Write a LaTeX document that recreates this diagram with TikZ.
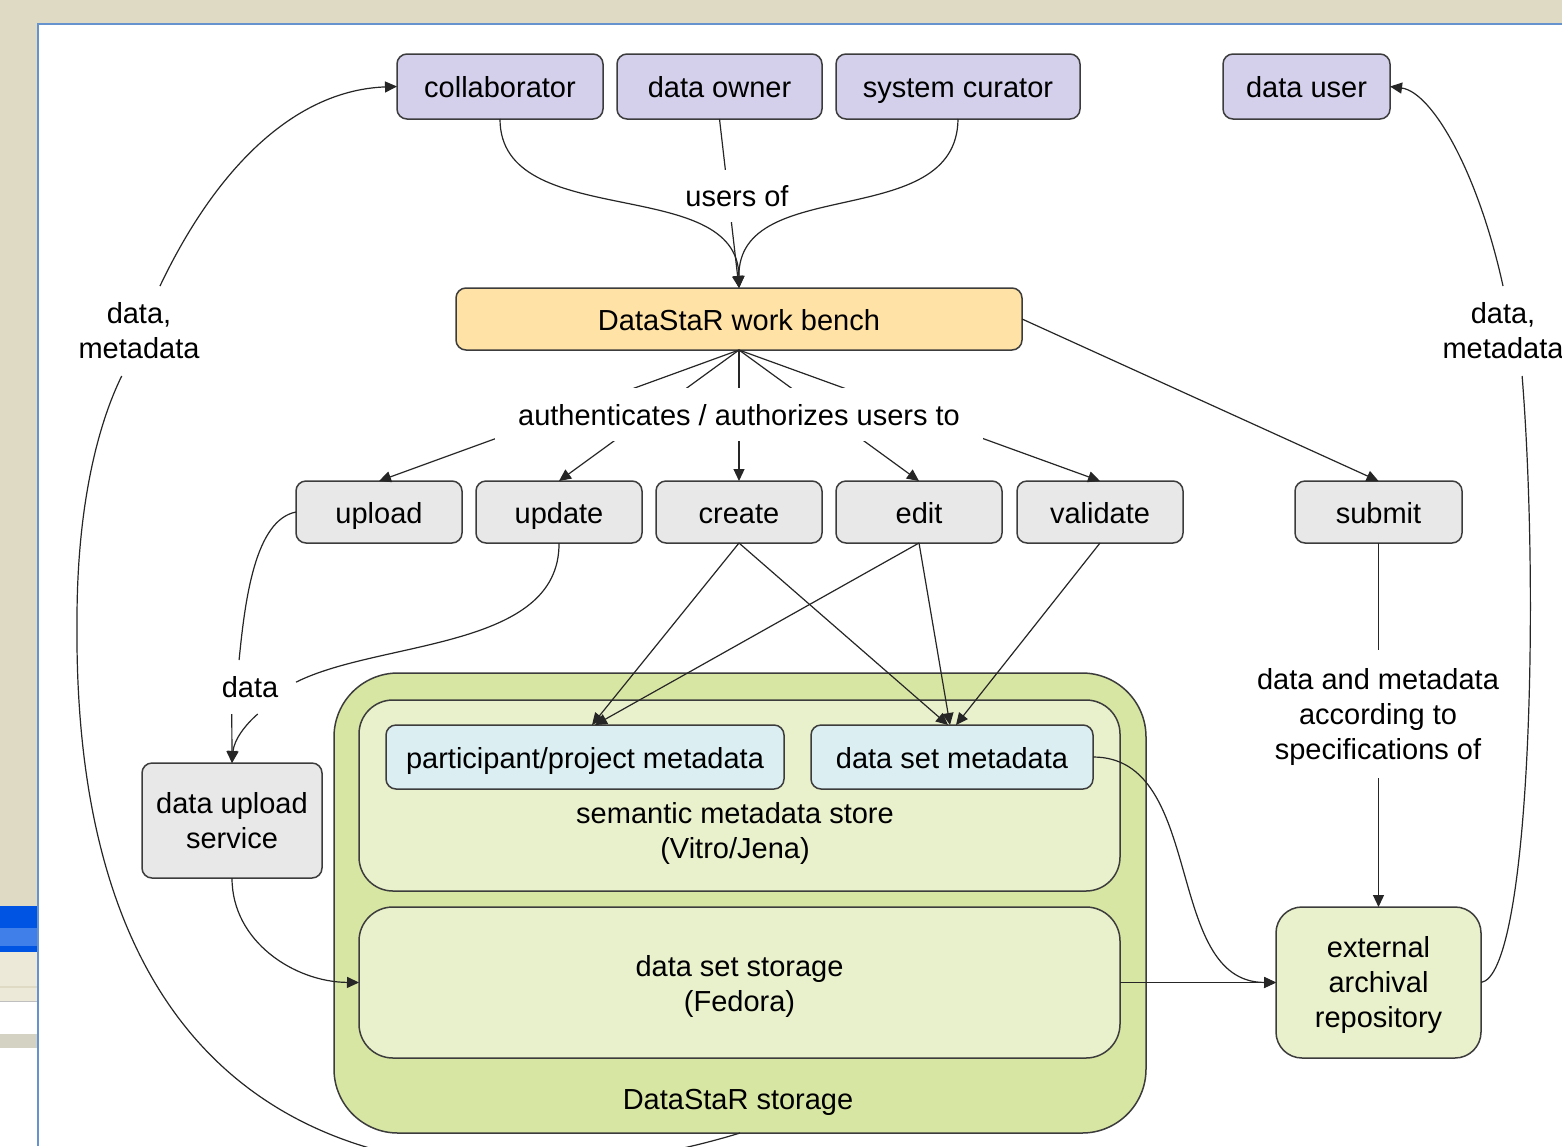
\documentclass[tikz,border=0pt]{standalone}
\usepackage{fontspec}
\setmainfont{Liberation Sans}
\usetikzlibrary{arrows.meta}
\definecolor{winbeige}{RGB}{223,218,196}
\definecolor{winlight}{RGB}{236,233,216}
\definecolor{winblue}{RGB}{0,84,227}
\definecolor{winline}{RGB}{102,146,206}
\definecolor{bord}{RGB}{60,60,60}
\definecolor{lav}{RGB}{212,208,236}
\definecolor{wbcol}{RGB}{254,226,166}
\definecolor{graybox}{RGB}{232,232,232}
\definecolor{outgreen}{RGB}{216,230,164}
\definecolor{ingreen}{RGB}{233,240,204}
\definecolor{cyanbox}{RGB}{219,238,242}
\newcommand\dfs{\fontsize{14.5}{17.5}\selectfont}
\begin{document}
\begin{tikzpicture}[x=0.5pt,y=-0.5pt,
  box/.style={draw=bord,line width=0.75pt,rounded corners=5pt,inner sep=0pt,outer sep=0pt,font=\dfs,align=center},
  one/.style={text height=14pt,text depth=3pt},
  lbl/.style={inner sep=0pt,outer sep=0pt,font=\dfs,align=center},
  conn/.style={draw=black!85,line width=0.6pt},
  arr/.style={conn,-{Triangle[length=6pt,width=5.5pt]}}]
\useasboundingbox (0,0) rectangle (1562,1146);
\clip (0,0) rectangle (1562,1146);
% window background
\fill[winbeige] (0,0) rectangle (1562,1146);
\fill[white] (38,24) rectangle (1562,1146);
\fill[winblue] (0,906) rectangle (37,952);
\fill[winblue!75!white] (0,928) rectangle (37,946);
\fill[winlight] (0,952) rectangle (37,986);
\fill[winlight] (0,988) rectangle (37,1001);
\draw[black!25,line width=0.5pt] (0,1001.5) -- (37,1001.5);
\fill[white] (0,1002) rectangle (37,1034);
\fill[winlight!90!black] (0,1034) rectangle (37,1048);
\fill[white] (0,1048) rectangle (37,1146);
\draw[winline,line width=1.2pt] (38,1146) -- (38,24) -- (1562,24);

% top users
\node[box,one,fill=lav,minimum width=103pt,minimum height=32.5pt] (collab) at (500,86.5) {collaborator};
\node[box,one,fill=lav,minimum width=102.5pt,minimum height=32.5pt] (owner) at (719.5,86.5) {data owner};
\node[box,one,fill=lav,minimum width=122pt,minimum height=32.5pt] (curator) at (958,86.5) {system curator};
\node[box,one,fill=lav,minimum width=83.5pt,minimum height=32.5pt] (duser) at (1306.5,86.5) {data user};
% workbench
\node[box,one,fill=wbcol,minimum width=283pt,minimum height=31pt] (wb) at (739,319) {DataStaR work bench};
% action boxes
\node[box,one,fill=graybox,minimum width=83pt,minimum height=31pt] (upload) at (379,512) {upload};
\node[box,one,fill=graybox,minimum width=83pt,minimum height=31pt] (update) at (559,512) {update};
\node[box,one,fill=graybox,minimum width=83pt,minimum height=31pt] (create) at (739,512) {create};
\node[box,one,fill=graybox,minimum width=83pt,minimum height=31pt] (edit) at (919,512) {edit};
\node[box,one,fill=graybox,minimum width=83pt,minimum height=31pt] (validate) at (1100,512) {validate};
\node[box,one,fill=graybox,minimum width=83.5pt,minimum height=31pt] (submit) at (1378.5,512) {submit};
% data upload service
\node[box,fill=graybox,minimum width=90pt,minimum height=57.5pt] (dus) at (232,820.5) {data upload\\service};
% storage
\node[box,fill=outgreen,rounded corners=32pt,minimum width=406pt,minimum height=230pt] (storage) at (740,903) {};
\node[box,fill=ingreen,rounded corners=17pt,minimum width=380.5pt,minimum height=95.5pt] (smd) at (739.5,795.5) {};
\node[box,one,fill=cyanbox,minimum width=199pt,minimum height=32pt] (pm) at (585,757) {participant/project metadata};
\node[box,one,fill=cyanbox,minimum width=141pt,minimum height=32pt] (dsm) at (952,757) {data set metadata};
\node[lbl] (smdl) at (735,833) {semantic metadata store\\(Vitro/Jena)};
\node[box,fill=ingreen,rounded corners=17pt,minimum width=380.5pt,minimum height=75.5pt] (dss) at (739.5,982.5) {\rule{0pt}{14pt}data set storage\\(Fedora)};
\node[lbl,one] (stl) at (738,1098) {DataStaR storage};
\node[box,fill=ingreen,rounded corners=13pt,minimum width=102.5pt,minimum height=75.5pt] (ear) at (1378.5,982.5) {\rule{0pt}{12.8pt}external\\archival\\repository};

% lines broken by labels (labels drawn on top in white)
\draw[arr] (owner.south) -- (wb.north);
\foreach \t in {upload,update,create,edit,validate}{\draw[arr] (wb.south) -- (\t.north);}
\draw[arr] (submit.south) -- (ear.north);
\node[lbl,fill=white,minimum width=55pt,minimum height=26pt] (usersof) at (737,196) {users of};
\node[lbl,one,fill=white,minimum width=244pt,minimum height=26.5pt] (auth) at (739,414.5) {authenticates / authorizes users to};
\node[lbl,fill=white,minimum width=130pt,minimum height=64pt] (spec) at (1378,714) {\rule{0pt}{13pt}data and metadata\\according to\\specifications of};

% free labels
\node[lbl,minimum width=65pt,minimum height=45pt] (lblL) at (139,331) {data,\\metadata};
\node[lbl,minimum width=65pt,minimum height=45pt] (lblR) at (1503,331) {data,\\metadata};
\node[lbl,minimum width=46pt,minimum height=27pt] (lblD) at (250,687) {data};

% connectors
\draw[arr] (collab.south) .. controls (500,233) and (738,173) .. (wb.north);
\draw[arr] (curator.south) .. controls (957,233) and (738,173) .. (wb.north);
\draw[arr] (wb.east) -- (submit.north);

\draw[conn] (upload.west) .. controls (255,520) and (245,600) .. (lblD.112);
\draw[conn] (update.south) .. controls (560,650) and (380,640) .. (lblD.6);
\draw[arr] (lblD.-124) -- (dus.north);
\draw[arr] (lblD.-74) .. controls (245,725) and (234,740) .. (dus.north);
\draw[arr] (dus.south) .. controls (232,942) and (295,982) .. (dss.west);

\draw[arr] (create.south) -- ([xshift=3.5pt]pm.north);
\draw[arr] (edit.south) -- ([xshift=5pt]pm.north);
\draw[arr] (create.south) -- ([xshift=-2pt]dsm.north);
\draw[arr] (edit.south) -- ([xshift=-1pt]dsm.north);
\draw[arr] (validate.south) -- ([xshift=2pt]dsm.north);

\draw[arr] (dsm.east) .. controls (1206,757) and (1163,982) .. (ear.west);
\draw[arr] (dss.east) -- (ear.west);

\draw[conn] (storage.south) .. controls (620,1170) and (70,1300) .. (77,620) .. controls (77,500) and (100,420) .. (lblL.-111);
\draw[arr] (lblL.65) .. controls (220,160) and (300,90) .. (collab.west);
\draw[conn] (ear.east) .. controls (1530,975) and (1540,600) .. (lblR.-67);
\draw[arr] (lblR.north) .. controls (1478,172) and (1432,92) .. (duser.east);
\end{tikzpicture}
\end{document}
